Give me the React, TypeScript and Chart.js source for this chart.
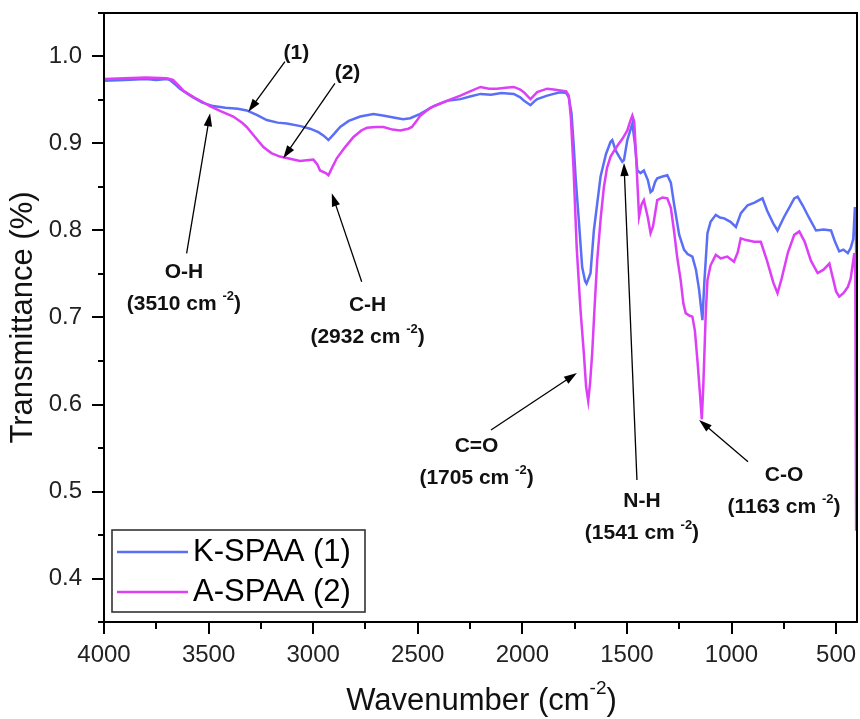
import React, { useEffect, useRef } from 'react';
import { Chart, registerables } from 'chart.js';

Chart.register(...registerables);

// ---------- data ----------
const kWave = [4000, 3900, 3800, 3750, 3700, 3685, 3660, 3637, 3600, 3574, 3530, 3478, 3420, 3360, 3318, 3270, 3222, 3170, 3126, 3060, 3015, 2975, 2950, 2927, 2900, 2871, 2830, 2775, 2712, 2660, 2616, 2570, 2536, 2488, 2424, 2360, 2296, 2250, 2200, 2150, 2100, 2041, 2010, 1993, 1961, 1940, 1929, 1881, 1850, 1818, 1790, 1778, 1765, 1755, 1745, 1730, 1714, 1700, 1693, 1674, 1658, 1640, 1626, 1600, 1578, 1570, 1554, 1535, 1522, 1514, 1498, 1474, 1462, 1450, 1435, 1419, 1400, 1387, 1378, 1365, 1355, 1330, 1307, 1290, 1275, 1250, 1227, 1210, 1187, 1170, 1155, 1145, 1139, 1130, 1115, 1100, 1075, 1055, 1035, 1005, 979, 955, 923, 890, 852, 830, 800, 780, 750, 720, 700, 684, 660, 630, 596, 560, 524, 505, 485, 465, 444, 430, 418, 410, 405, 402];
const kTrans = [0.972, 0.973, 0.974, 0.973, 0.974, 0.973, 0.968, 0.963, 0.957, 0.953, 0.947, 0.943, 0.941, 0.940, 0.938, 0.933, 0.927, 0.924, 0.923, 0.920, 0.917, 0.913, 0.909, 0.904, 0.911, 0.919, 0.926, 0.931, 0.934, 0.932, 0.930, 0.928, 0.929, 0.934, 0.943, 0.949, 0.951, 0.954, 0.957, 0.956, 0.958, 0.957, 0.953, 0.9495, 0.944, 0.949, 0.951, 0.955, 0.957, 0.959, 0.958, 0.953, 0.935, 0.900, 0.860, 0.812, 0.758, 0.742, 0.739, 0.751, 0.800, 0.835, 0.862, 0.888, 0.902, 0.904, 0.892, 0.884, 0.879, 0.881, 0.904, 0.923, 0.900, 0.869, 0.866, 0.869, 0.858, 0.844, 0.846, 0.856, 0.860, 0.862, 0.8635, 0.855, 0.831, 0.795, 0.778, 0.773, 0.770, 0.755, 0.732, 0.710, 0.697, 0.740, 0.797, 0.810, 0.818, 0.815, 0.814, 0.810, 0.804, 0.820, 0.829, 0.832, 0.837, 0.823, 0.808, 0.800, 0.815, 0.828, 0.837, 0.839, 0.829, 0.815, 0.800, 0.801, 0.800, 0.787, 0.776, 0.778, 0.774, 0.780, 0.790, 0.827, 0.800, 0.691];

const aWave = [4000, 3900, 3800, 3700, 3670, 3640, 3622, 3570, 3530, 3494, 3440, 3382, 3340, 3318, 3280, 3238, 3200, 3159, 3100, 3063, 3020, 2999, 2980, 2967, 2940, 2927, 2910, 2887, 2850, 2807, 2770, 2743, 2700, 2664, 2620, 2584, 2545, 2528, 2505, 2488, 2440, 2392, 2340, 2296, 2250, 2200, 2160, 2121, 2080, 2041, 2010, 1993, 1961, 1945, 1929, 1881, 1850, 1818, 1790, 1778, 1768, 1755, 1740, 1722, 1706, 1695, 1685, 1676, 1666, 1655, 1642, 1625, 1610, 1595, 1578, 1555, 1538, 1520, 1498, 1485, 1474, 1465, 1455, 1442, 1430, 1419, 1400, 1387, 1375, 1355, 1330, 1307, 1290, 1275, 1260, 1243, 1230, 1219, 1200, 1187, 1175, 1163, 1150, 1142, 1135, 1123, 1115, 1100, 1075, 1052, 1020, 988, 970, 956, 930, 892, 860, 830, 800, 780, 760, 730, 700, 676, 650, 620, 588, 560, 532, 515, 500, 485, 465, 444, 430, 413, 408, 404];
const aTrans = [0.974, 0.975, 0.976, 0.975, 0.973, 0.966, 0.961, 0.953, 0.948, 0.943, 0.937, 0.931, 0.924, 0.919, 0.908, 0.896, 0.889, 0.885, 0.882, 0.880, 0.881, 0.8815, 0.876, 0.869, 0.866, 0.8635, 0.872, 0.883, 0.895, 0.9075, 0.915, 0.918, 0.919, 0.919, 0.916, 0.915, 0.917, 0.919, 0.926, 0.932, 0.941, 0.946, 0.951, 0.955, 0.960, 0.965, 0.963, 0.963, 0.964, 0.965, 0.962, 0.959, 0.951, 0.955, 0.959, 0.963, 0.962, 0.961, 0.960, 0.955, 0.930, 0.870, 0.780, 0.709, 0.659, 0.620, 0.604, 0.625, 0.659, 0.710, 0.766, 0.815, 0.850, 0.872, 0.885, 0.894, 0.900, 0.906, 0.915, 0.925, 0.932, 0.925, 0.880, 0.816, 0.830, 0.835, 0.815, 0.797, 0.805, 0.835, 0.838, 0.837, 0.826, 0.800, 0.770, 0.743, 0.716, 0.705, 0.702, 0.701, 0.685, 0.651, 0.610, 0.583, 0.620, 0.705, 0.743, 0.760, 0.772, 0.768, 0.770, 0.764, 0.775, 0.791, 0.789, 0.787, 0.787, 0.765, 0.740, 0.728, 0.745, 0.775, 0.795, 0.799, 0.787, 0.765, 0.751, 0.755, 0.762, 0.745, 0.730, 0.724, 0.728, 0.735, 0.745, 0.774, 0.750, 0.455];

const xTicks = [4000, 3500, 3000, 2500, 2000, 1500, 1000, 500];
const yTicks = [0.4, 0.5, 0.6, 0.7, 0.8, 0.9, 1.0];
const seriesLabels = ['K-SPAA (1)', 'A-SPAA (2)'];
const xTitle = 'Wavenumber (cm';
const yTitle = 'Transmittance (%)';

// annotations (data coordinates: wavenumber, transmittance)
const annotations = [
  { title: '(1)', band: '', at: [3080, 1.0035], tail: [3135, 0.994], head: [3310, 0.9366] },
  { title: '(2)', band: '', at: [2836, 0.9805], tail: [2896, 0.969], head: [3143, 0.883] },
  { title: 'O-H', band: '3510', at: [3618, 0.752], tail: [3605, 0.7738], head: [3493, 0.9347] },
  { title: 'C-H', band: '2932', at: [2740, 0.7144], tail: [2768, 0.741], head: [2911, 0.8428] },
  { title: 'C=O', band: '1705', at: [2219, 0.5517], tail: [2150, 0.5707], head: [1739, 0.6362] },
  { title: 'N-H', band: '1541', at: [1428, 0.489], tail: [1452, 0.5132], head: [1514, 0.8776] },
  { title: 'C-O', band: '1163', at: [749, 0.519], tail: [921, 0.5343], head: [1155, 0.5822] },
];

const FONT = '"Liberation Sans", Arial, Helvetica, sans-serif';
const BLUE = '#5b6ff6';
const MAGENTA = '#dd3ff7';

function drawRich(ctx: CanvasRenderingContext2D, segs: { t: string; sup?: boolean }[], cx: number, cy: number, size: number, bold: boolean, align: 'center' | 'left' | 'right' = 'center') {
  const w = bold ? 'bold ' : '';
  const main = `${w}${size}px ${FONT}`;
  const small = `${w}${Math.round(size * 0.62)}px ${FONT}`;
  let total = 0;
  for (const s of segs) {
    ctx.font = s.sup ? small : main;
    total += ctx.measureText(s.t).width;
  }
  let x = align === 'center' ? cx - total / 2 : align === 'right' ? cx - total : cx;
  ctx.textAlign = 'left';
  ctx.textBaseline = 'middle';
  for (const s of segs) {
    ctx.font = s.sup ? small : main;
    ctx.fillText(s.t, x, s.sup ? cy - size * 0.38 : cy);
    x += ctx.measureText(s.t).width;
  }
}

const overlay = {
  id: 'overlay',
  afterDraw(chart: any) {
    const ctx: CanvasRenderingContext2D = chart.ctx;
    const { left, right, top, bottom } = chart.chartArea;
    const xs = chart.scales.x;
    const ys = chart.scales.y;
    ctx.save();
    // frame
    ctx.strokeStyle = '#000';
    ctx.lineWidth = 2;
    ctx.strokeRect(left, top, right - left, bottom - top);
    // y ticks
    ctx.beginPath();
    for (let v = 0.35; v <= 1.0501; v += 0.05) {
      const isMajor = yTicks.some((t) => Math.abs(t - v) < 1e-6);
      const py = Math.round(ys.getPixelForValue(v));
      ctx.moveTo(left, py);
      ctx.lineTo(left - (isMajor ? 12 : 6), py);
    }
    // x ticks
    for (let v = 500; v <= 4000; v += 250) {
      const isMajor = xTicks.includes(v);
      const px = Math.round(xs.getPixelForValue(v));
      ctx.moveTo(px, bottom);
      ctx.lineTo(px, bottom + (isMajor ? 12 : 7));
    }
    ctx.stroke();

    // tick labels
    ctx.fillStyle = '#222';
    for (const v of yTicks) {
      drawRich(ctx, [{ t: v.toFixed(1) }], left - 22, ys.getPixelForValue(v), 24, false, 'right');
    }
    for (const v of xTicks) {
      drawRich(ctx, [{ t: String(v) }], xs.getPixelForValue(v), bottom + 33, 24, false, 'center');
    }

    // axis titles
    ctx.fillStyle = '#111';
    drawRich(ctx, [{ t: xTitle }, { t: '-2', sup: true }, { t: ')' }], (left + right) / 2 + 1, 701, 31, false);
    ctx.save();
    ctx.translate(23, (top + bottom) / 2);
    ctx.rotate(-Math.PI / 2);
    drawRich(ctx, [{ t: yTitle }], 0, 0, 31, false);
    ctx.restore();

    // annotations
    for (const a of annotations) {
      const tx = xs.getPixelForValue(a.tail[0]);
      const ty = ys.getPixelForValue(a.tail[1]);
      const hx = xs.getPixelForValue(a.head[0]);
      const hy = ys.getPixelForValue(a.head[1]);
      const ang = Math.atan2(hy - ty, hx - tx);
      const L = 13, W = 4.2;
      ctx.strokeStyle = '#000';
      ctx.lineWidth = 1.3;
      ctx.beginPath();
      ctx.moveTo(tx, ty);
      ctx.lineTo(hx - Math.cos(ang) * L * 0.8, hy - Math.sin(ang) * L * 0.8);
      ctx.stroke();
      ctx.fillStyle = '#000';
      ctx.beginPath();
      ctx.moveTo(hx, hy);
      ctx.lineTo(hx - Math.cos(ang) * L - Math.sin(ang) * W, hy - Math.sin(ang) * L + Math.cos(ang) * W);
      ctx.lineTo(hx - Math.cos(ang) * L + Math.sin(ang) * W, hy - Math.sin(ang) * L - Math.cos(ang) * W);
      ctx.closePath();
      ctx.fill();

      const cx = xs.getPixelForValue(a.at[0]);
      const cy = ys.getPixelForValue(a.at[1]);
      ctx.fillStyle = '#111';
      drawRich(ctx, [{ t: a.title }], cx, cy, 21, true);
      if (a.band) {
        drawRich(ctx, [{ t: `(${a.band} cm ` }, { t: '-2', sup: true }, { t: ')' }], cx, cy + 32, 21, true);
      }
    }

    // legend
    const lx = left + 8, ly = bottom - 92, lw = 253, lh = 82;
    ctx.fillStyle = '#fff';
    ctx.fillRect(lx, ly, lw, lh);
    ctx.strokeStyle = '#333';
    ctx.lineWidth = 1.6;
    ctx.strokeRect(lx, ly, lw, lh);
    const colors = [BLUE, MAGENTA];
    seriesLabels.forEach((lab, i) => {
      const yy = ly + 22 + i * 40;
      ctx.strokeStyle = colors[i];
      ctx.lineWidth = 2.5;
      ctx.beginPath();
      ctx.moveTo(lx + 5, yy);
      ctx.lineTo(lx + 76, yy);
      ctx.stroke();
      ctx.fillStyle = '#000';
      drawRich(ctx, [{ t: lab }], lx + 81, yy, 31, false, 'left');
    });
    ctx.restore();
  },
};

export default function App() {
  const ref = useRef<HTMLCanvasElement | null>(null);
  useEffect(() => {
    if (!ref.current) return;
    const chart = new Chart(ref.current, {
      type: 'line',
      data: {
        datasets: [
          {
            label: seriesLabels[0],
            data: kWave.map((x, i) => ({ x, y: kTrans[i] })),
            borderColor: BLUE,
            borderWidth: 2.5,
            pointRadius: 0,
            tension: 0,
            order: 1,
          },
          {
            label: seriesLabels[1],
            data: aWave.map((x, i) => ({ x, y: aTrans[i] })),
            borderColor: MAGENTA,
            borderWidth: 2.5,
            pointRadius: 0,
            tension: 0,
            order: 0,
          },
        ],
      },
      options: {
        animation: false,
        responsive: false,
        devicePixelRatio: 1,
        parsing: false,
        layout: { padding: { left: 0, right: 3, top: 13, bottom: 0 } },
        plugins: { legend: { display: false }, tooltip: { enabled: false } },
        scales: {
          x: {
            type: 'linear',
            reverse: true,
            min: 400,
            max: 4000,
            grid: { display: false, drawTicks: false },
            border: { display: false },
            afterBuildTicks: (s: any) => { s.ticks = xTicks.map((v) => ({ value: v })); },
            afterFit: (s: any) => { s.height = 97; s.paddingLeft = 0; s.paddingRight = 0; },
            ticks: { display: false },
          },
          y: {
            type: 'linear',
            min: 0.35,
            max: 1.05,
            grid: { display: false, drawTicks: false },
            border: { display: false },
            afterBuildTicks: (s: any) => { s.ticks = yTicks.map((v) => ({ value: v })); },
            afterFit: (s: any) => { s.width = 104; s.paddingTop = 0; s.paddingBottom = 0; },
            ticks: { display: false },
          },
        },
      },
      plugins: [overlay],
    });
    return () => chart.destroy();
  }, []);
  return (
    <div style={{ position: 'fixed', left: 0, top: 0, width: 860, height: 719, background: '#fff' }}>
      <canvas ref={ref} width={860} height={719} style={{ width: 860, height: 719, display: 'block' }} />
    </div>
  );
}
